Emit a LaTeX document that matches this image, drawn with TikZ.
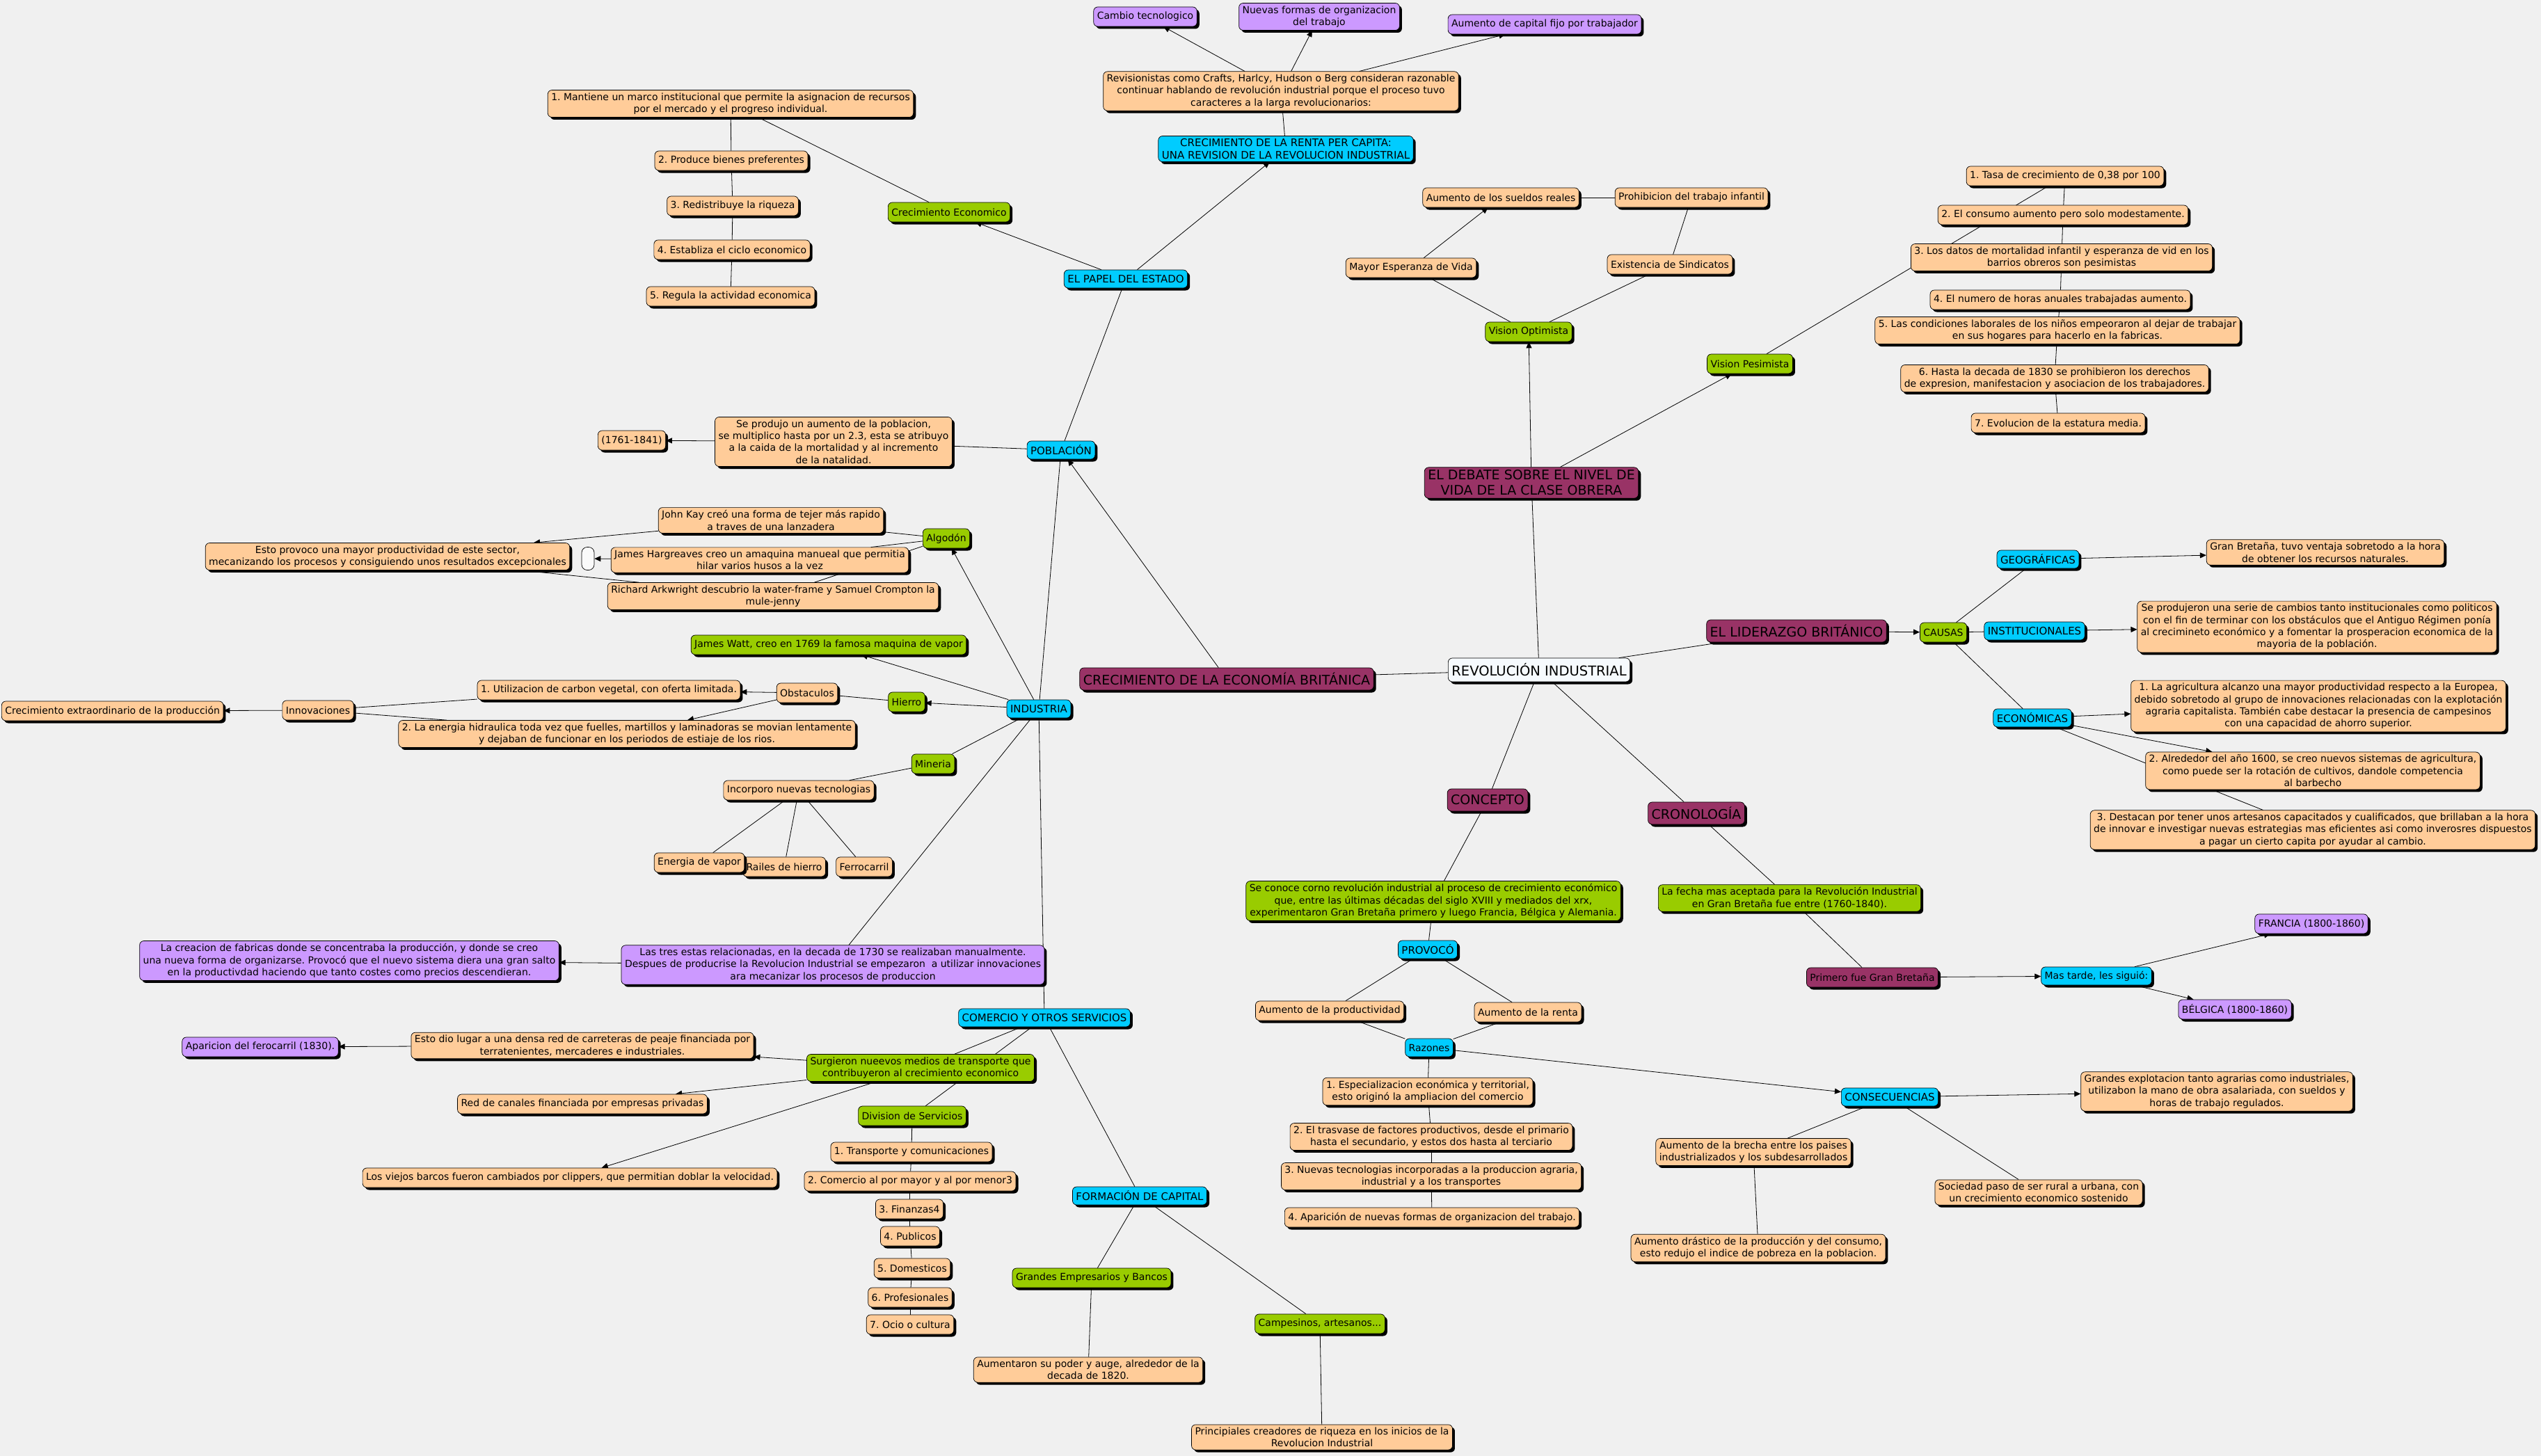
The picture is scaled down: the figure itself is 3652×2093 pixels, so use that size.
\documentclass[tikz,border=0pt]{standalone}
\usepackage{fontspec}
\setmainfont{DejaVu Sans}
\frenchspacing
\usetikzlibrary{shadows,arrows.meta}
\pgfdeclarelayer{back}\pgfdeclarelayer{edges}
\pgfsetlayers{back,edges,main}
\definecolor{bgc}{HTML}{F0F0F0}
\definecolor{corg}{HTML}{FFCC99}
\definecolor{cgrn}{HTML}{99CC00}
\definecolor{cblu}{HTML}{00CCFF}
\definecolor{cpur}{HTML}{CC99FF}
\definecolor{cmar}{HTML}{993366}
\definecolor{cwht}{HTML}{F6FAFE}
\newcommand\fsm{\fontsize{14}{17.4}\selectfont}
\newcommand\fbl{\fontsize{15}{17.6}\selectfont}
\newcommand\fbig{\fontsize{19}{22}\selectfont}
\newcommand\fhuge{\fontsize{19.5}{23}\selectfont}
\tikzset{
 box/.style={draw=black, line width=0.7pt, rounded corners=6pt, align=center, font=\fsm,
   inner xsep=5pt, inner ysep=4pt, minimum height=28pt,
   drop shadow={shadow xshift=3.5pt, shadow yshift=-3.5pt, opacity=1, fill=black}},
 org/.style={box, fill=corg},
 grn/.style={box, fill=cgrn},
 blu/.style={box, fill=cblu, font=\fbl, minimum height=26pt},
 pur/.style={box, fill=cpur},
 mar/.style={box, fill=cmar, font=\fbig, minimum height=32pt},
 wht/.style={box, fill=cwht, font=\fhuge, minimum height=34pt},
 con/.style={draw=black, line width=0.8pt},
 arr/.style={con, -{Triangle[length=9pt,width=8pt]}},
}
\begin{document}
\begin{tikzpicture}[x=1pt,y=-1pt]
\useasboundingbox (0,0) rectangle (3652,2093);
\begin{pgfonlayer}{back}
\fill[bgc] (0,0) rectangle (3652,2093);
\end{pgfonlayer}

% ---------- top ----------
\node[pur] (cambio) at (1646,24) {Cambio tecnologico};
\node[pur] (nuevas) at (1896,24) {Nuevas formas de organizacion\\del trabajo};
\node[pur] (capfijo) at (2220,35) {Aumento de capital fijo por trabajador};
\node[org] (revis) at (1841,131) {Revisionistas como Crafts, Harlcy, Hudson o Berg consideran razonable\\continuar hablando de revolución industrial porque el proceso tuvo\\caracteres a la larga revolucionarios:};
\node[blu] (renta) at (1848,214) {CRECIMIENTO DE LA RENTA PER CAPITA:\\UNA REVISION DE LA REVOLUCION INDUSTRIAL};
\node[grn] (crececo) at (1364,305) {Crecimiento Economico};
\node[blu] (papel) at (1618,401) {EL PAPEL DEL ESTADO};
\node[org] (e1) at (1050,149) {1. Mantiene un marco institucional que permite la asignacion de recursos\\por el mercado y el progreso individual.};
\node[org] (e2) at (1051,231) {2. Produce bienes preferentes};
\node[org] (e3) at (1053,296) {3. Redistribuye la riqueza};
\node[org] (e4) at (1052,359) {4. Establiza el ciclo economico};
\node[org] (e5) at (1050,426) {5. Regula la actividad economica};
\node[org] (f1761) at (908,633) {(1761-1841)};
\node[org] (seprod) at (1198,635) {Se produjo un aumento de la poblacion,\\se multiplico hasta por un 2.3, esta se atribuyo\\a la caida de la mortalidad y al incremento\\de la natalidad.};
\node[blu] (pobl) at (1525,647) {POBLACIÓN};

% ---------- debate ----------
\node[org] (mayoresp) at (2028,385) {Mayor Esperanza de Vida};
\node[org] (sueldos) at (2157,284) {Aumento de los sueldos reales};
\node[org] (prohib) at (2431,284) {Prohibicion del trabajo infantil};
\node[org] (sindic) at (2400,380) {Existencia de Sindicatos};
\node[grn] (optim) at (2197,477) {Vision Optimista};
\node[mar] (debate) at (2201,694) {EL DEBATE SOBRE EL NIVEL DE\\VIDA DE LA CLASE OBRERA};
\node[grn] (pesim) at (2515,523) {Vision Pesimista};
\node[org] (p1) at (2968,253) {1. Tasa de crecimiento de 0,38 por 100};
\node[org] (p2) at (2965,309) {2. El consumo aumento pero solo modestamente.};
\node[org] (p3) at (2963,370) {3. Los datos de mortalidad infantil y esperanza de vid en los\\barrios obreros son pesimistas};
\node[org] (p4) at (2961,431) {4. El numero de horas anuales trabajadas aumento.};
\node[org] (p5) at (2957,475) {5. Las condiciones laborales de los niños empeoraron al dejar de trabajar\\en sus hogares para hacerlo en la fabricas.};
\node[org] (p6) at (2953,544) {6. Hasta la decada de 1830 se prohibieron los derechos\\de expresion, manifestacion y asociacion de los trabajadores.};
\node[org] (p7) at (2958,608) {7. Evolucion de la estatura media.};

% ---------- industria ----------
\node[org] (jkay) at (1108,748) {John Kay creó una forma de tejer más rapido\\a traves de una lanzadera};
\node[org] (hargr) at (1092,805) {James Hargreaves creo un amaquina manueal que permitia\\hilar varios husos a la vez};
\node[draw=black, line width=0.7pt, fill=white!96!gray, rounded corners=8pt, minimum width=18pt, minimum height=33pt, inner sep=0pt] (pill) at (845,803) {};
\node[org] (arkw) at (1111,857) {Richard Arkwright descubrio la water-frame y Samuel Crompton la\\mule-jenny};
\node[grn] (algodon) at (1360,774) {Algodón};
\node[org] (estoprov) at (557,800) {Esto provoco una mayor productividad de este sector,\\mecanizando los procesos y consiguiendo unos resultados excepcionales};
\node[grn] (watt) at (1191,927) {James Watt, creo en 1769 la famosa maquina de vapor};
\node[org] (obst) at (1160,996) {Obstaculos};
\node[grn] (hierro) at (1303,1009) {Hierro};
\node[blu] (industria) at (1493,1019) {INDUSTRIA};
\node[org] (util) at (875,992) {1. Utilizacion de carbon vegetal, con oferta limitada.};
\node[org] (energia) at (901,1055) {2. La energia hidraulica toda vez que fuelles, martillos y laminadoras se movian lentamente\\y dejaban de funcionar en los periodos de estiaje de los rios.};
\node[org] (innov) at (457,1021) {Innovaciones};
\node[org, anchor=west] (crecext) at (2,1022) {Crecimiento extraordinario de la producción};
\node[grn] (mineria) at (1341,1098) {Mineria};
\node[org] (incorp) at (1148,1136) {Incorporo nuevas tecnologias};
\node[org] (railes) at (1127,1246) {Railes de hierro};
\node[org] (energvap) at (1005,1240) {Energia de vapor};
\node[org] (ferro) at (1242,1246) {Ferrocarril};
\node[pur] (lastres) at (1197,1387) {Las tres estas relacionadas, en la decada de 1730 se realizaban manualmente.\\Despues de producrise la Revolucion Industrial se empezaron\ \ a utilizar innovaciones\\ara mecanizar los procesos de produccion};
\node[pur] (creacion) at (502,1381) {La creacion de fabricas donde se concentraba la producción, y donde se creo\\una nueva forma de organizarse. Provocó que el nuevo sistema diera una gran salto\\en la productivdad haciendo que tanto costes como precios descendieran.};

% ---------- comercio ----------
\node[blu] (comercio) at (1501,1463) {COMERCIO Y OTROS SERVICIOS};
\node[grn] (surg) at (1323,1535) {Surgieron nueevos medios de transporte que\\contribuyeron al crecimiento economico};
\node[org] (estodio) at (837,1503) {Esto dio lugar a una densa red de carreteras de peaje financiada por\\terratenientes, mercaderes e industriales.};
\node[pur] (aparic) at (374,1505) {Aparicion del ferocarril (1830).};
\node[org] (canales) at (837,1587) {Red de canales financiada por empresas privadas};
\node[org] (barcos) at (819,1693) {Los viejos barcos fueron cambiados por clippers, que permitian doblar la velocidad.};
\node[grn] (divis) at (1311,1604) {Division de Servicios};
\node[org] (s1) at (1310,1656) {1. Transporte y comunicaciones};
\node[org] (s2) at (1308,1698) {2. Comercio al por mayor y al por menor3};
\node[org] (s3) at (1307,1738) {3. Finanzas4};
\node[org] (s4) at (1308,1777) {4. Publicos};
\node[org] (s5) at (1311,1823) {5. Domesticos};
\node[org] (s6) at (1308,1865) {6. Profesionales};
\node[org] (s7) at (1308,1904) {7. Ocio o cultura};
\node[blu] (formcap) at (1638,1719) {FORMACIÓN DE CAPITAL};
\node[grn] (grandes) at (1569,1837) {Grandes Empresarios y Bancos};
\node[grn] (campes) at (1897,1903) {Campesinos, artesanos...};
\node[org] (aumentaron) at (1564,1969) {Aumentaron su poder y auge, alrededor de la\\decada de 1820.};
\node[org] (princip) at (1900,2066) {Principiales creadores de riqueza en los inicios de la\\Revolucion Industrial};

% ---------- centro ----------
\node[mar] (crecbrit) at (1763,976) {CRECIMIENTO DE LA ECONOMÍA BRITÁNICA};
\node[wht] (revol) at (2212,963) {REVOLUCIÓN INDUSTRIAL};
\node[mar] (concepto) at (2138,1150) {CONCEPTO};
\node[mar] (crono) at (2438,1169) {CRONOLOGÍA};
\node[grn] (seconoce) at (2060,1295) {Se conoce corno revolución industrial al proceso de crecimiento económico\\que, entre las últimas décadas del siglo XVIII y mediados del xrx,\\experimentaron Gran Bretaña primero y luego Francia, Bélgica y Alemania.};
\node[blu] (provoco) at (2052,1365) {PROVOCÓ};
\node[grn] (lafecha) at (2572,1291) {La fecha mas aceptada para la Revolución Industrial\\en Gran Bretaña fue entre (1760-1840).};
\node[box, fill=cmar] (primero) at (2691,1405) {Primero fue Gran Bretaña};
\node[blu, font=\fsm] (mastarde) at (3013,1403) {Mas tarde, les siguió:};
\node[pur] (francia) at (3322,1328) {FRANCIA (1800-1860)};
\node[pur] (belgica) at (3212,1451) {BÉLGICA (1800-1860)};

% ---------- liderazgo ----------
\node[mar] (lider) at (2582,907) {EL LIDERAZGO BRITÁNICO};
\node[grn] (causas) at (2793,909) {CAUSAS};
\node[blu] (geo) at (2929,804) {GEOGRÁFICAS};
\node[blu] (inst) at (2924,907) {INSTITUCIONALES};
\node[blu] (econ) at (2921,1032) {ECONÓMICAS};
\node[org] (granbret) at (3342,794) {Gran Bretaña, tuvo ventaja sobretodo a la hora\\de obtener los recursos naturales.};
\node[org] (seprodujeron) at (3330,901) {Se produjeron una serie de cambios tanto institucionales como politicos\\con el fin de terminar con los obstáculos que el Antiguo Régimen ponía\\al crecimineto económico y a fomentar la prosperacion economica de la\\mayoria de la población.};
\node[org] (ag1) at (3332,1015) {1. La agricultura alcanzo una mayor productividad respecto a la Europea,\\debido sobretodo al grupo de innovaciones relacionadas con la explotación\\agraria capitalista. También cabe destacar la presencia de campesinos\\con una capacidad de ahorro superior.};
\node[org] (ag2) at (3324,1108) {2. Alrededor del año 1600, se creo nuevos sistemas de agricultura,\\como puede ser la rotación de cultivos, dandole competencia\\al barbecho};
\node[org, anchor=east] (ag3) at (3644,1193) {3. Destacan por tener unos artesanos capacitados y cualificados, que brillaban a la hora\\de innovar e investigar nuevas estrategias mas eficientes asi como inverosres dispuestos\\a pagar un cierto capita por ayudar al cambio.};

% ---------- provoco / consecuencias ----------
\node[org] (aprod) at (1911,1453) {Aumento de la productividad};
\node[org] (arenta) at (2196,1455) {Aumento de la renta};
\node[blu, font=\fsm] (razones) at (2054,1506) {Razones};
\node[org] (r1) at (2052,1569) {1. Especializacion económica y territorial,\\esto originó la ampliacion del comercio};
\node[org] (r2) at (2057,1634) {2. El trasvase de factores productivos, desde el primario\\hasta el secundario, y estos dos hasta al terciario};
\node[org] (r3) at (2057,1691) {3. Nuevas tecnologias incorporadas a la produccion agraria,\\industrial y a los transportes};
\node[org] (r4) at (2058,1750) {4. Aparición de nuevas formas de organizacion del trabajo.};
\node[blu] (consec) at (2716,1577) {CONSECUENCIAS};
\node[org] (grandesexp) at (3186,1569) {Grandes explotacion tanto agrarias como industriales,\\utilizabon la mano de obra asalariada, con sueldos y\\horas de trabajo regulados.};
\node[org] (brecha) at (2520,1656) {Aumento de la brecha entre los paises\\industrializados y los subdesarrollados};
\node[org] (sociedad) at (2930,1714) {Sociedad paso de ser rural a urbana, con\\un crecimiento economico sostenido};
\node[org] (drastico) at (2527,1794) {Aumento drástico de la producción y del consumo,\\esto redujo el indice de pobreza en la poblacion.};

\begin{pgfonlayer}{edges}
\draw[arr] (revis) -- (cambio);
\draw[arr] (revis) -- (nuevas);
\draw[arr] (revis) -- (capfijo);
\draw[con] (renta) -- (revis);
\draw[arr] (papel) -- (renta);
\draw[arr] (papel) -- (crececo);
\draw[con] (crececo) -- (e1);
\draw[con] (e1) -- (e2);
\draw[con] (e2) -- (e3);
\draw[con] (e3) -- (e4);
\draw[con] (e4) -- (e5);
\draw[con] (pobl) -- (papel);
\draw[con] (pobl) -- (seprod);
\draw[arr] (seprod) -- (f1761);
\draw[con] (industria) -- (pobl);
\draw[arr] (crecbrit) -- (pobl);
\draw[con] (revol) -- (crecbrit);
\draw[con] (revol) -- (debate);
\draw[arr] (debate) -- (optim);
\draw[arr] (debate) -- (pesim);
\draw[con] (optim) -- (mayoresp);
\draw[arr] (mayoresp) -- (sueldos);
\draw[con] (sueldos) -- (prohib);
\draw[con] (prohib) -- (sindic);
\draw[con] (sindic) -- (optim);
\draw[con] (pesim) -- (p1);
\draw[con] (p1) -- (p2);
\draw[con] (p2) -- (p3);
\draw[con] (p3) -- (p4);
\draw[con] (p4) -- (p5);
\draw[con] (p5) -- (p6);
\draw[con] (p6) -- (p7);
\draw[con] (revol) -- (lider);
\draw[arr] (lider) -- (causas);
\draw[con] (causas) -- (geo);
\draw[con] (causas) -- (inst);
\draw[con] (causas) -- (econ);
\draw[arr] (geo) -- (granbret);
\draw[arr] (inst) -- (seprodujeron);
\draw[arr] (econ) -- (ag1);
\draw[arr] (econ) -- (ag2);
\draw[con] (econ) -- (ag3);
\draw[con] (revol) -- (concepto);
\draw[con] (concepto) -- (seconoce);
\draw[con] (seconoce) -- (provoco);
\draw[con] (provoco) -- (aprod);
\draw[con] (provoco) -- (arenta);
\draw[con] (aprod) -- (razones);
\draw[con] (arenta) -- (razones);
\draw[con] (razones) -- (r1);
\draw[con] (r1) -- (r2);
\draw[con] (r2) -- (r3);
\draw[con] (r3) -- (r4);
\draw[arr] (razones) -- (consec);
\draw[arr] (consec) -- (grandesexp);
\draw[con] (consec) -- (brecha);
\draw[con] (consec) -- (sociedad);
\draw[con] (brecha) -- (drastico);
\draw[con] (revol) -- (crono);
\draw[con] (crono) -- (lafecha);
\draw[con] (lafecha) -- (primero);
\draw[arr] (primero) -- (mastarde);
\draw[arr] (mastarde) -- (francia);
\draw[arr] (mastarde) -- (belgica);
\draw[arr] (industria) -- (algodon);
\draw[con] (algodon) -- (jkay);
\draw[con] (algodon) -- (hargr);
\draw[con] (algodon) -- (arkw);
\draw[arr] (jkay) -- (estoprov);
\draw[arr] (hargr) -- (pill);
\draw[con] (arkw) -- (estoprov);
\draw[arr] (industria) -- (watt);
\draw[arr] (industria) -- (hierro);
\draw[con] (hierro) -- (obst);
\draw[arr] (obst) -- (util);
\draw[arr] (obst) -- (energia);
\draw[con] (innov) -- (util);
\draw[con] (innov) -- (energia);
\draw[arr] (innov) -- (crecext);
\draw[con] (industria) -- (mineria);
\draw[con] (mineria) -- (incorp);
\draw[con] (incorp) -- (energvap);
\draw[con] (incorp) -- (railes);
\draw[con] (incorp) -- (ferro);
\draw[con] (industria) -- (lastres);
\draw[con] (industria) -- (comercio);
\draw[arr] (lastres) -- (creacion);
\draw[con] (comercio) -- (surg);
\draw[con] (comercio) -- (divis);
\draw[arr] (surg) -- (estodio);
\draw[arr] (surg) -- (canales);
\draw[arr] (surg) -- (barcos);
\draw[arr] (estodio) -- (aparic);
\draw[con] (divis) -- (s1);
\draw[con] (s1) -- (s2);
\draw[con] (s2) -- (s3);
\draw[con] (s3) -- (s4);
\draw[con] (s4) -- (s5);
\draw[con] (s5) -- (s6);
\draw[con] (s6) -- (s7);
\draw[con] (comercio) -- (formcap);
\draw[con] (formcap) -- (grandes);
\draw[con] (formcap) -- (campes);
\draw[con] (grandes) -- (aumentaron);
\draw[con] (campes) -- (princip);
\end{pgfonlayer}
\end{tikzpicture}
\end{document}
